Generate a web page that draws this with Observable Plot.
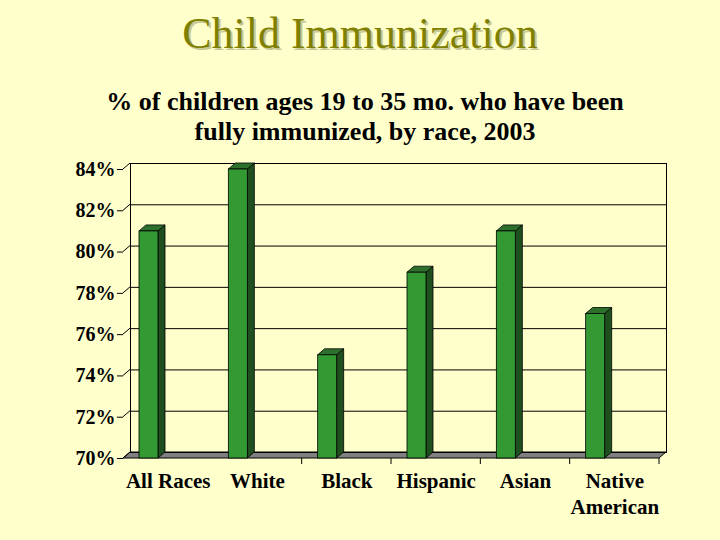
<!DOCTYPE html>
<html>
<head>
<meta charset="utf-8">
<script src="https://cdn.jsdelivr.net/npm/d3@7"></script>
<script src="https://cdn.jsdelivr.net/npm/@observablehq/plot@0.6"></script>
<style>
  html, body { margin: 0; padding: 0; background: #FFFFCC; }
  #wrap { position: relative; width: 720px; height: 540px; overflow: hidden; background: #FFFFCC; }
  #title { position: absolute; left: 0; top: 12px; width: 720px; text-align: center;
    font-family: "Liberation Serif", "Times New Roman", Times, serif; font-size: 44px; line-height: 44px;
    color: #808000; text-shadow: 2px 2px 0 #C8C896; white-space: nowrap; }
  #subtitle { position: absolute; left: 5px; top: 87px; width: 720px; text-align: center;
    font-family: "Liberation Serif", "Times New Roman", Times, serif; font-size: 26px; line-height: 30px;
    font-weight: bold; color: #000; }
  #chart { position: absolute; left: 0; top: 150px; }
</style>
</head>
<body>
<div id="wrap">
  <div id="title">Child Immunization</div>
  <div id="subtitle">% of children ages 19 to 35 mo. who have been<br>fully immunized, by race, 2003</div>
  <div id="chart"></div>
</div>
<script>
// ---- data ----
const categories = ["All Races", "White", "Black", "Hispanic", "Asian", "Native American"];
const values = [81, 84, 75, 79, 81, 77];
const xLabels = ["All Races", "White", "Black", "Hispanic", "Asian", "Native\nAmerican"];
const yTicks = [70, 72, 74, 76, 78, 80, 82, 84];
const yTickLabels = ["70%", "72%", "74%", "76%", "78%", "80%", "82%", "84%"];

const data = categories.map((c, i) => ({category: c, value: values[i]}));

// ---- layout ----
const W = 720, H = 390;
const mT = 19, mB = 82, mL = 123, mR = 61;
const DX = 7, DY = -6;           // 3D depth offset
const bw = (W - mL - mR) / categories.length;
const barLeft = 16, barWidth = 19;
const FONT = "'Liberation Serif', 'Times New Roman', Times, serif";

// 3D parts drawn through Plot's scales
function floorMark(index, scales) {
  const {x, y} = scales;
  const y0 = y(yTicks[0]);
  const x0 = mL, x1 = W - mR;
  const g = d3.create("svg:g");
  g.append("path")
    .attr("d", `M${x0},${y0}L${x1},${y0}L${x1 + DX},${y0 + DY}L${x0 + DX},${y0 + DY}Z`)
    .attr("fill", "#808080").attr("stroke", "#000").attr("stroke-width", 1);
  // diagonal y tick connectors
  for (const v of yTicks) {
    const yy = y(v);
    g.append("line").attr("x1", x0).attr("y1", yy).attr("x2", x0 + DX).attr("y2", yy + DY)
      .attr("stroke", "#000").attr("stroke-width", 1);
  }
  // category boundary ticks
  categories.forEach((c, i) => {
    if (i === 0) return;
    const xx = x(c) + x.bandwidth();
    g.append("line").attr("x1", xx).attr("y1", y0).attr("x2", xx).attr("y2", y0 + 6)
      .attr("stroke", "#000").attr("stroke-width", 1);
  });
  return g.node();
}

function barDepthMark(index, scales) {
  const {x, y} = scales;
  const y0 = y(yTicks[0]);
  const g = d3.create("svg:g");
  data.forEach(d => {
    const xl = x(d.category) + barLeft, xr = xl + barWidth, yt = y(d.value);
    // side face
    g.append("path")
      .attr("d", `M${xr},${yt}L${xr + DX},${yt + DY}L${xr + DX},${y0 + DY}L${xr},${y0}Z`)
      .attr("fill", "#1f4f1f").attr("stroke", "#000").attr("stroke-width", 0.8);
    // top face
    g.append("path")
      .attr("d", `M${xl},${yt}L${xl + DX},${yt + DY}L${xr + DX},${yt + DY}L${xr},${yt}Z`)
      .attr("fill", "#2c702c").attr("stroke", "#000").attr("stroke-width", 0.8);
  });
  return g.node();
}

const chart = Plot.plot({
  width: W, height: H,
  marginTop: mT, marginBottom: mB, marginLeft: mL, marginRight: mR,
  style: {background: "transparent", color: "#000", fontFamily: FONT},
  x: {type: "band", domain: categories, paddingInner: 0, paddingOuter: 0, round: false, axis: null},
  y: {domain: [70, 84], axis: null},
  marks: [
    floorMark,
    Plot.frame({dx: DX, dy: DY, stroke: "#000", strokeWidth: 1}),
    Plot.ruleY(yTicks, {dx: DX, dy: DY, stroke: "#000", strokeWidth: 1}),
    barDepthMark,
    Plot.barY(data, {x: "category", y1: 70, y2: "value", fill: "#339933", stroke: "#000", strokeWidth: 0.8,
      insetLeft: barLeft, insetRight: bw - barLeft - barWidth}),
    Plot.axisY(yTicks, {anchor: "left", tickSize: 6, tickPadding: 2, fontSize: 20, fontWeight: "bold",
      fontFamily: FONT, tickFormat: v => yTickLabels[yTicks.indexOf(v)], label: null}),
    Plot.axisX(categories, {anchor: "bottom", tickSize: 0, tickPadding: 11, fontSize: 21, fontWeight: "bold",
      fontFamily: FONT, lineHeight: 1.25, tickFormat: c => xLabels[categories.indexOf(c)], label: null})
  ]
});
document.getElementById("chart").appendChild(chart);
</script>
</body>
</html>
